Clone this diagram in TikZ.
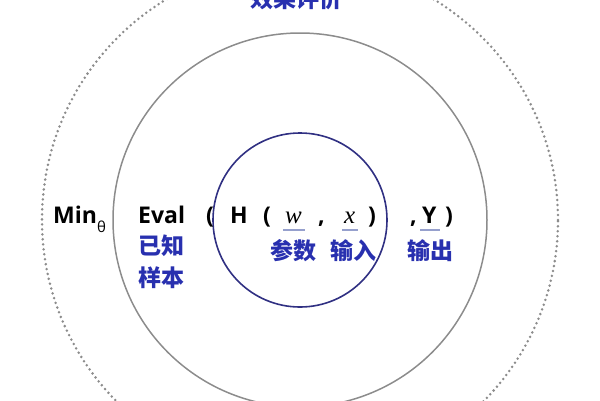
\documentclass[tikz,border=0pt]{standalone}
\usepackage{fontspec}
\setmainfont{Open Sans}
\newfontfamily\cjk{Noto Sans CJK SC}
\newfontfamily\serifit{Liberation Serif}
\usepackage{tikz}
\usetikzlibrary{positioning}
\usepackage{xcolor}
\definecolor{labelblue}{RGB}{40,48,175}
\definecolor{ringblue}{RGB}{48,48,130}
\definecolor{ringgray}{RGB}{140,140,140}
\definecolor{linegray}{RGB}{150,160,205}
\newlength\outerr
\newlength\midr
\newlength\innerr
\setlength{\outerr}{258pt}
\setlength{\midr}{187pt}
\setlength{\innerr}{87pt}
\newcommand{\symb}[3]{
   \node[symb] (#1) at (#2,223) {#3};
}
\newcommand{\uline}[1]{
   \draw[uline] ([xshift=-2pt,yshift=-7pt]#1.base west) -- ([xshift=3pt,yshift=-7pt]#1.base east);
}

\begin{document}
\begin{tikzpicture}[x=1pt,y=-1pt,
    symb/.style={anchor=base west,inner sep=0pt,font=\fontsize{23}{28}\selectfont\bfseries},
    var/.style={anchor=base west,inner sep=0pt,font=\fontsize{25}{28}\selectfont\serifit\itshape},
    cn/.style={text=labelblue,inner sep=0pt,align=left,font=\fontsize{23}{32}\selectfont\cjk\bfseries},
    uline/.style={draw=linegray,line width=1.3pt}]
    \useasboundingbox (0,0) rectangle (600,400);
    \coordinate (O) at (300,220);
    % rings
    \draw[ringgray,line width=2.8pt,dash pattern=on 0pt off 5pt,line cap=round] (O) circle[radius=\outerr];
    \draw[ringgray,line width=1.5pt] (O) circle[radius=\midr];
    \draw[ringblue,line width=1.6pt] (O) circle[radius=\innerr];
    % formula
    \symb{min}{53}{Min\raisebox{-9pt}{\fontsize{15}{15}\selectfont\mdseries θ}}
    \symb{eval}{138}{Eval}
    \symb{lp1}{206}{(}
    \symb{h}{230}{H}
    \symb{lp2}{263}{(}
    \node[var] (w) at (285,223) {w};
    \symb{c1}{318}{,}
    \node[var] (x) at (344,223) {x};
    \symb{rp2}{368}{)}
    \symb{c2}{410}{,}
    \symb{y}{422}{Y}
    \symb{rp1}{445}{)}
    \uline{w}
    \uline{x}
    \uline{y}
    % labels
    \node[cn,anchor=north west] (known) at (138,235) {已知\\样本};
    \node[cn,anchor=west] (param) at (270,251) {参数};
    \node[cn,anchor=west] (input) at (330,251) {输入};
    \node[cn,anchor=west] (output) at (407,251) {输出};
    \node[cn] (effect) at (296,-1) {效果评价};
\end{tikzpicture}
\end{document}
